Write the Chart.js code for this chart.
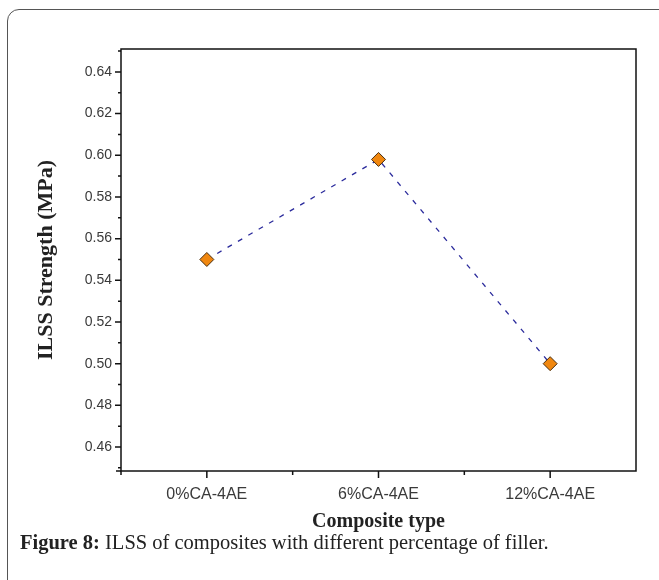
<!DOCTYPE html>
<html>
<head>
<meta charset="utf-8">
<script src="https://cdn.jsdelivr.net/npm/chart.js@4.4.0/dist/chart.umd.min.js"></script>
<style>
  body { margin: 0; background: #fff; width: 659px; height: 580px; overflow: hidden; position: relative; }
  .box { position: absolute; left: 7px; top: 9px; width: 700px; height: 620px; border: 1px solid #555; border-radius: 12px; }
  #wrap { position: absolute; left: 0; top: 0; width: 659px; height: 534px; }
  .caption { position: absolute; left: 20px; top: 531px; font-family: "Liberation Serif", serif; font-size: 20.5px; color: #222; white-space: nowrap; }
  .caption b { font-weight: bold; }
</style>
</head>
<body>
<div class="box"></div>
<div id="wrap"><canvas id="myChart" width="659" height="534"></canvas></div>
<div class="caption"><b>Figure 8:</b> ILSS of composites with different percentage of filler.</div>
<script>
// composites and their interlaminar shear strength
const categories = ['0%CA-4AE', '6%CA-4AE', '12%CA-4AE']
const ilss = [0.550, 0.598, 0.500]
const yTicks = [0.46, 0.48, 0.50, 0.52, 0.54, 0.56, 0.58, 0.60, 0.62, 0.64]
const yMinorTicks = [0.45, 0.47, 0.49, 0.51, 0.53, 0.55, 0.57, 0.59, 0.61, 0.63, 0.65]

// box around the plot plus outward tick marks like Origin draws
const frame = {
  id: 'frame',
  afterDraw(chart) {
    const ctx = chart.ctx
    const a = chart.chartArea
    const x = chart.scales.x
    const y = chart.scales.y
    ctx.save()
    ctx.strokeStyle = '#111'
    ctx.lineWidth = 1.5
    ctx.strokeRect(a.left, a.top, a.right - a.left, a.bottom - a.top)
    ctx.beginPath()
    // axis lines poke out a little at the corner
    ctx.moveTo(a.left - 5, a.bottom); ctx.lineTo(a.left, a.bottom)
    ctx.moveTo(a.left, a.bottom); ctx.lineTo(a.left, a.bottom + 4)
    yTicks.forEach(v => {
      const py = y.getPixelForValue(v)
      ctx.moveTo(a.left - 6, py); ctx.lineTo(a.left, py)
    })
    yMinorTicks.forEach(v => {
      const py = y.getPixelForValue(v)
      ctx.moveTo(a.left - 3, py); ctx.lineTo(a.left, py)
    })
    categories.forEach((c, i) => {
      const px = x.getPixelForValue(i)
      ctx.moveTo(px, a.bottom); ctx.lineTo(px, a.bottom + 7)
    })
    for (let i = 0; i < categories.length - 1; i++) {
      const px = x.getPixelForValue(i + 0.5)
      ctx.moveTo(px, a.bottom); ctx.lineTo(px, a.bottom + 4)
    }
    ctx.stroke()
    ctx.restore()
  }
}

const ctx = document.getElementById('myChart').getContext('2d')
const chart = new Chart(ctx, {
  type: 'line',
  data: {
    labels: categories,
    datasets: [{
      label: 'ILSS',
      data: ilss,
      borderColor: '#2b2b9c',
      borderWidth: 1.3,
      borderDash: [5, 7],
      pointStyle: 'rectRot',
      pointRadius: 7,
      pointBackgroundColor: '#f0870f',
      pointBorderColor: '#4a2f10',
      pointBorderWidth: 1,
      tension: 0
    }]
  },
  options: {
    responsive: false,
    animation: false,
    layout: { padding: { left: 0, right: 23, top: 49, bottom: 0 } },
    plugins: { legend: { display: false }, tooltip: { enabled: false } },
    scales: {
      x: {
        offset: true,
        grid: { display: false, drawTicks: false },
        border: { display: false },
        ticks: { color: '#3a3a3a', padding: 14, font: { family: 'Liberation Sans', size: 16 } },
        title: { display: true, text: 'Composite type', color: '#222', padding: { top: 0, bottom: 0 },
                 font: { family: 'Liberation Serif', size: 20, weight: 'bold' } },
        afterFit: s => { s.height = 63 }
      },
      y: {
        min: 0.4485,
        max: 0.651,
        afterBuildTicks: s => { s.ticks = yTicks.map(v => ({ value: v })) },
        grid: { display: false, drawTicks: false },
        border: { display: false },
        ticks: { color: '#3a3a3a', padding: 9, font: { family: 'Liberation Sans', size: 14 },
                 callback: v => v.toFixed(2) },
        title: { display: true, text: 'ILSS Strength (MPa)', color: '#222', padding: { top: 33, bottom: 0 },
                 font: { family: 'Liberation Serif', size: 22, weight: 'bold' } },
        afterFit: s => { s.width = 121 }
      }
    }
  },
  plugins: [frame]
})
</script>
</body>
</html>
